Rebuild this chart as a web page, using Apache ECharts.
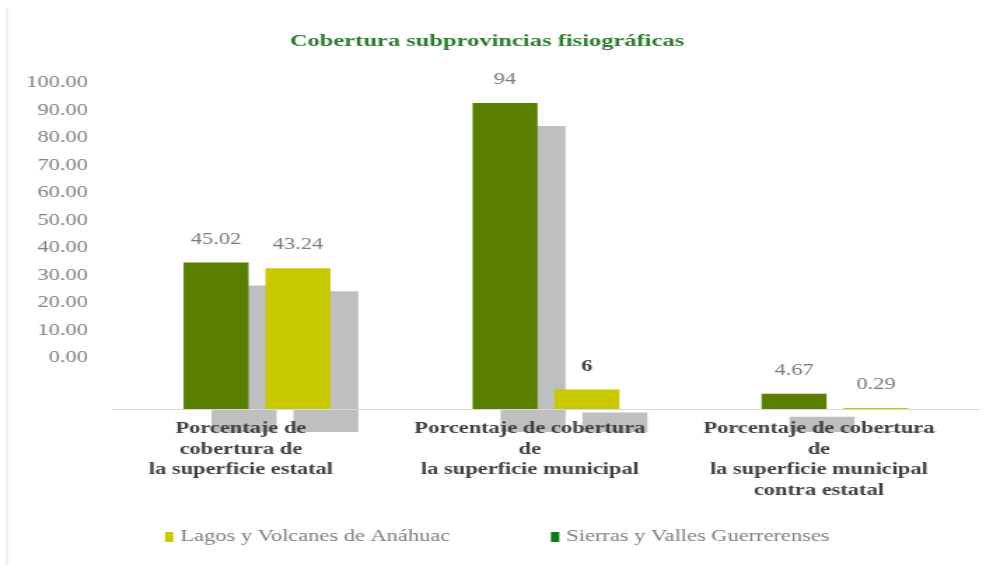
<!DOCTYPE html>
<html>
<head>
<meta charset="utf-8">
<title>Cobertura subprovincias fisiográficas</title>
<script src="https://cdn.jsdelivr.net/npm/echarts@6/dist/echarts.min.js"></script>
<style>
  html, body { margin: 0; padding: 0; background: #ffffff; overflow: hidden; }
  /* The chart is laid out on a narrower canvas and widened horizontally,
     which gives the broad, stretched lettering of this figure. */
  #chart { width: 709px; height: 565px; transform: scaleX(1.40056); transform-origin: 0 0; }
</style>
</head>
<body>
<div id="chart"></div>
<script>
// ---- data ----
const categories = [
  'Porcentaje de\ncobertura de\nla superficie estatal',
  'Porcentaje de cobertura\nde\nla superficie municipal',
  'Porcentaje de cobertura\nde\nla superficie municipal\ncontra estatal'
];
const seriesNames = ['Sierras y Valles Guerrerenses', 'Lagos y Volcanes de Anáhuac'];
const sierrasValues = [45.02, 94, 4.67];
const lagosValues = [43.24, 6, 0.29];
const tickMin = 0;
const tickMax = 100;
const tickStep = 10;

// ---- layout helpers (horizontal page pixels -> canvas pixels) ----
const STRETCH = 993 / 709;
const hx = v => v / STRETCH;

const SERIF = "'Liberation Serif', 'Times New Roman', serif";
const GREEN = '#5a7f00';
const YELLOW = '#c9c900';
const SHADOW = '#bfbfbf';

const chart = echarts.init(document.getElementById('chart'), null, { renderer: 'canvas' });

function barSeries(name, values, color, labelFor) {
  return {
    name: name,
    type: 'bar',
    xAxisIndex: 0,
    yAxisIndex: 0,
    barWidth: hx(65),
    barGap: '26%',
    clip: false,
    data: values.map((v, i) => labelFor ? { value: v, label: labelFor(i) } : v),
    itemStyle: {
      color: color,
      shadowColor: SHADOW,
      shadowBlur: 0,
      shadowOffsetX: hx(28),
      shadowOffsetY: 23
    },
    label: {
      show: true,
      position: 'top',
      distance: 15,
      fontFamily: SERIF,
      fontSize: 16,
      color: '#7a7a7a'
    },
    emphasis: { disabled: true }
  };
}

const option = {
  backgroundColor: '#ffffff',
  animation: false,
  title: {
    text: 'Cobertura subprovincias fisiográficas',
    left: hx(487) - 5,
    top: 27,
    textAlign: 'center',
    textStyle: {
      fontFamily: SERIF,
      fontWeight: 'bold',
      fontSize: 17.5,
      color: '#2b7d2b'
    }
  },
  legend: {
    left: hx(165) - 5,
    top: 524,
    itemWidth: 6,
    itemHeight: 10,
    itemGap: 72,
    icon: 'rect',
    textStyle: { fontFamily: SERIF, fontSize: 16, color: '#7f7f7f' },
    itemStyle: { shadowColor: 'rgba(0,0,0,0)', shadowOffsetX: 0, shadowOffsetY: 0 },
    data: [
      { name: seriesNames[1], itemStyle: { color: YELLOW, shadowColor: 'rgba(0,0,0,0)', shadowOffsetX: 0, shadowOffsetY: 0 } },
      { name: seriesNames[0], itemStyle: { color: '#127a12', shadowColor: 'rgba(0,0,0,0)', shadowOffsetX: 0, shadowOffsetY: 0 } }
    ]
  },
  graphic: [{
    type: 'line',
    shape: { x1: hx(7), y1: 8, x2: hx(7), y2: 565 },
    style: { stroke: '#efefef', lineWidth: 2 },
    silent: true
  }],
  grid: [
    // plotting area of the bars
    { left: hx(112.5), width: hx(867), top: 83.5, bottom: 156 },
    // scale shown on the left
    { left: hx(88) + 8, width: 5, top: 83, height: 275 }
  ],
  xAxis: [
    {
      type: 'category',
      gridIndex: 0,
      data: categories,
      z: 5,
      axisLine: { show: true, lineStyle: { color: '#d9d9d9', width: 1 } },
      axisTick: { show: false },
      axisLabel: {
        interval: 0,
        margin: 10,
        fontFamily: SERIF,
        fontWeight: 'bold',
        fontSize: 16,
        lineHeight: 20.5,
        color: '#404040',
        padding: [0, 23, 0, 0]
      }
    },
    { type: 'value', gridIndex: 1, show: false, min: 0, max: 1 }
  ],
  yAxis: [
    { type: 'value', gridIndex: 0, min: tickMin, max: tickMax, show: false },
    {
      type: 'value',
      gridIndex: 1,
      min: tickMin,
      max: tickMax,
      interval: tickStep,
      axisLine: { show: false },
      axisTick: { show: false },
      splitLine: { show: false },
      axisLabel: {
        margin: 8,
        fontFamily: SERIF,
        fontSize: 16,
        color: '#7f7f7f',
        formatter: v => v.toFixed(2)
      }
    }
  ],
  series: [
    barSeries(seriesNames[0], sierrasValues, GREEN),
    barSeries(seriesNames[1], lagosValues, YELLOW,
      i => i === 1 ? { color: '#404040', fontWeight: 'bold' } : undefined)
  ]
};

chart.setOption(option);
</script>
</body>
</html>
